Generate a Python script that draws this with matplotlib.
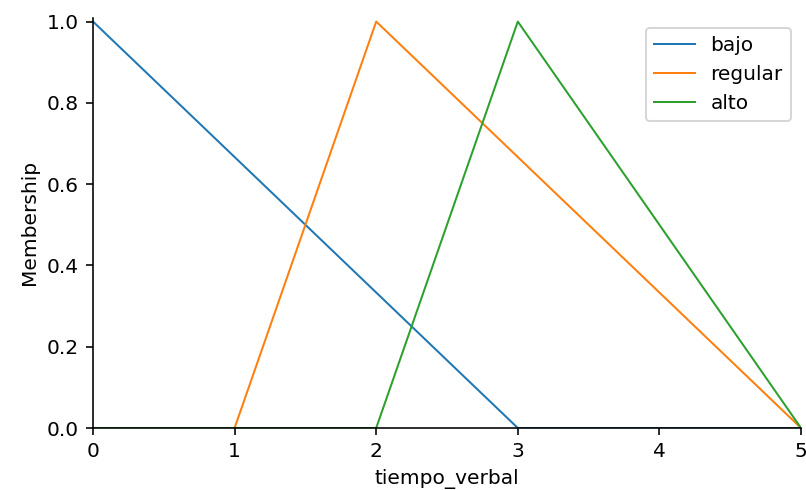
import numpy as np
import matplotlib.pyplot as plt

universe = [0, 1, 2, 3, 4, 5]
bajo = [1.0, 2/3, 1/3, 0.0, 0.0, 0.0]
regular = [0.0, 0.0, 1.0, 2/3, 1/3, 0.0]
alto = [0.0, 0.0, 0.0, 1.0, 0.5, 0.0]
labels = ["bajo", "regular", "alto"]

DPI = 145
fig = plt.figure(figsize=(806 / DPI, 490 / DPI), dpi=DPI)
top = 17.5
ax = fig.add_axes([93/806, 1 - 428/490, (801 - 93)/806, (428 - top)/490])

for vals, lab in zip([bajo, regular, alto], labels):
    ax.plot(universe, vals, linewidth=1.0, label=lab)

ax.set_xlim(0, 5)
ax.set_ylim(0, 1.01)
ax.set_yticks([0.0, 0.2, 0.4, 0.6, 0.8, 1.0])
ax.set_ylabel("Membership")
ax.set_xlabel("tiempo_verbal")
ax.spines["top"].set_visible(False)
ax.spines["right"].set_visible(False)
ax.legend(loc="upper right")

fig.savefig("out.png", dpi=DPI)
